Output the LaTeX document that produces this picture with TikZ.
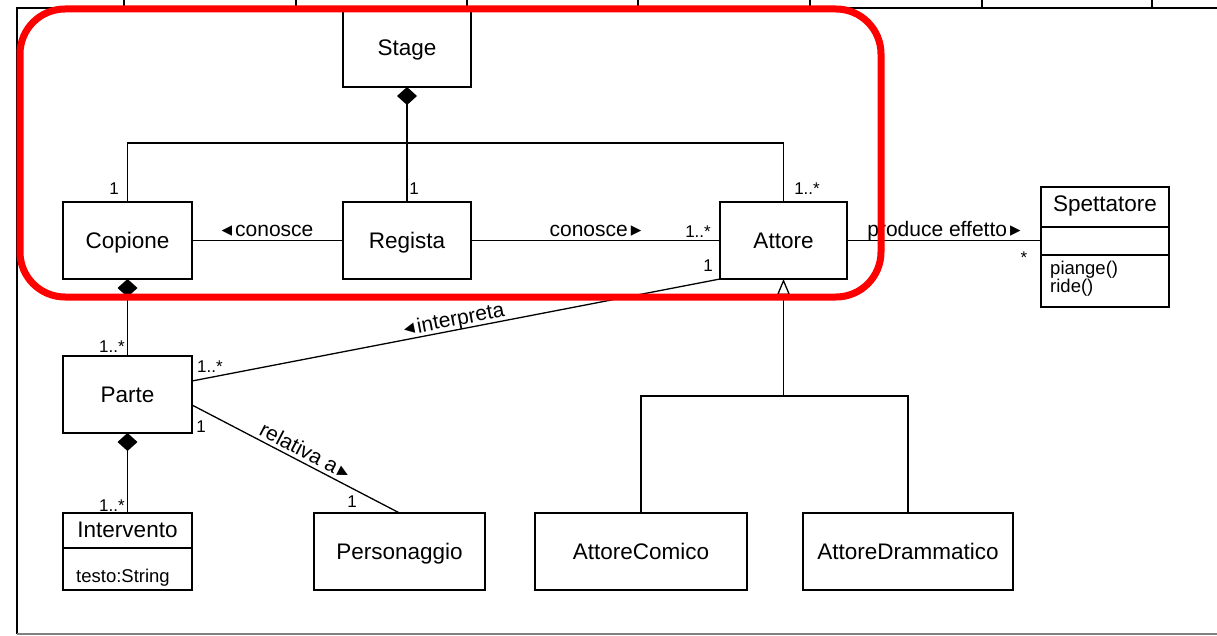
\documentclass[tikz,border=0pt]{standalone}
\usepackage{fontspec}
\setmainfont{Liberation Sans}
\newfontfamily\symfont{DejaVu Sans}
\usetikzlibrary{arrows.meta,calc}
\newcommand\assocL{{\symfont\fontsize{21}{21}\selectfont ◂}\hspace{3pt}}
\newcommand\assocR{\hspace{3pt}{\symfont\fontsize{21}{21}\selectfont ▸}}
\tikzset{
  cls/.style={draw, line width=1.3pt, inner sep=0pt, outer sep=0pt,
    font=\fontsize{22.5}{26}\selectfont, text height=15.5pt, text depth=0pt},
  ttl/.style={inner sep=0pt, anchor=base, font=\fontsize{22.5}{26}\selectfont},
  attr/.style={inner sep=0pt, anchor=base west, font=\fontsize{18.5}{20}\selectfont},
  mult/.style={inner sep=0pt, anchor=base, font=\fontsize{17}{20}\selectfont},
  asc/.style={font=\fontsize{21}{25}\selectfont, inner sep=0pt, text depth=0pt, above=3.5pt},
  conn/.style={line width=1.3pt},
  comp/.style={conn, {Diamond[length=18pt,width=20pt]}-},
  gen/.style={conn, -{Triangle[open,length=16pt,width=13pt]}},
}
\begin{document}
\begin{tikzpicture}[x=1pt,y=-1pt]
\useasboundingbox (0,0) rectangle (1217,636);
% frame
\draw[line width=1.5pt] (17,634) -- (17,8) -- (1217,8);
\draw[line width=1.5pt, gray] (17,634) -- (1217,634);
\foreach \x in {124,296,467,638,810,982,1152} \draw[line width=1.3pt] (\x,0) -- (\x,8);

% classes
\node[cls, minimum width=128pt, minimum height=79pt] (stage) at (407,47.5) {Stage};
\node[cls, minimum width=129pt, minimum height=77pt] (copione) at (127.5,240.5) {Copione};
\node[cls, minimum width=128pt, minimum height=77pt] (regista) at (407,240.5) {Regista};
\node[cls, minimum width=127pt, minimum height=77pt] (attore) at (783.5,240.5) {Attore};
\node[cls, minimum width=129pt, minimum height=77pt] (parte) at (127.5,394.5) {Parte};
\node[cls, minimum width=171pt, minimum height=77pt] (personaggio) at (399.5,551.5) {Personaggio};
\node[cls, minimum width=212pt, minimum height=77pt] (comico) at (641,551.5) {AttoreComico};
\node[cls, minimum width=210pt, minimum height=77pt] (drammatico) at (908,551.5) {AttoreDrammatico};

% Intervento
\node[cls, minimum width=129pt, minimum height=77pt] (intervento) at (127.5,551.5) {};
\node[ttl] (intertitle) at (127.5,537) {Intervento};
\coordinate (idiv) at (0,548);
\draw[conn] (intervento.west |- idiv) -- (intervento.east |- idiv);
\node[attr] (testo) at (76,582) {testo:String};

% Spettatore
\node[cls, minimum width=128pt, minimum height=120pt] (spett) at (1105,247) {};
\node[ttl] (spetttitle) at (1105,212) {Spettatore};
\coordinate (sdiv1) at (0,227);
\coordinate (sdiv2) at (0,255);
\draw[conn] (spett.west |- sdiv1) -- (spett.east |- sdiv1);
\draw[conn] (spett.west |- sdiv2) -- (spett.east |- sdiv2);
\node[attr] (piange) at (1050,274) {piange()};
\node[attr] (ride) at (1050,292) {ride()};

% connectors
\coordinate (bus) at (0,143);
\draw[comp] (stage.south) -- (regista.north);
\draw[conn] (copione.north) -- (copione.north |- bus) -- (attore.north |- bus) -- (attore.north);
\draw[conn] (copione.east) -- (regista.west) node[asc, midway] (l1) {\assocL conosce};
\draw[conn] (regista.east) -- (attore.west) node[asc, midway] (l2) {conosce\assocR};
\draw[conn] (attore.east) -- (attore.east -| spett.west) node[asc, midway] (l3) {produce effetto\assocR};
\draw[comp] (copione.south) -- (parte.north);
\draw[comp] (parte.south) -- (intervento.north);
\draw[conn] ($(parte.east)+(0,-13.5)$) -- (attore.south west) node[asc, midway, sloped] (l4) {\assocL interpreta};
\draw[conn] ($(parte.east)+(0,10.5)$) -- (personaggio.north) node[asc, pos=0.52, sloped] (l5) {relativa a\assocR};
\coordinate (genbus) at (0,396);
\draw[conn] (comico.north) -- (comico.north |- genbus) -- (drammatico.north |- genbus) -- (drammatico.north);
\draw[gen] (attore.south |- genbus) -- (attore.south);

% multiplicities
\node[mult] (m1) at (114,195) {1};
\node[mult] (m2) at (414,195) {1};
\node[mult] (m3) at (807,195) {1..*};
\node[mult] (m4) at (698,238) {1..*};
\node[mult] (m5) at (708,272) {1};
\node[mult] (m6) at (1024,263) {*};
\node[mult] (m7) at (112,352) {1..*};
\node[mult] (m8) at (210,372) {1..*};
\node[mult] (m9) at (201,432) {1};
\node[mult] (m10) at (352,507) {1};
\node[mult] (m11) at (112,511) {1..*};

% highlight
\draw[red, line width=7pt, rounded corners=45pt] (20,9) rectangle (881,297);
\end{tikzpicture}
\end{document}
